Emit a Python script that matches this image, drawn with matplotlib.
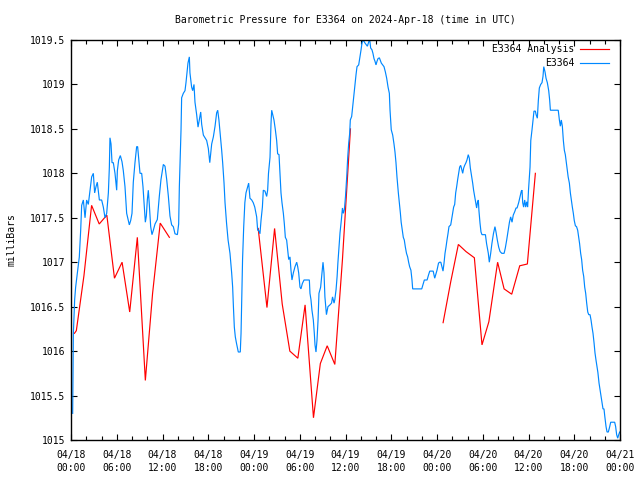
import matplotlib
matplotlib.use("Agg")
import matplotlib.pyplot as plt
from matplotlib.lines import Line2D
import numpy as np

# ---- data (hours since 2024-04-18 00:00 UTC, millibars) ----
obs_hours = [0.22,0.31,0.48,0.61,0.83,1.09,1.27,1.40,1.62,1.84,2.05,2.27,2.49,2.71,2.93,3.10,3.28,3.45,3.72,4.02,
 4.24,4.46,4.68,4.90,5.03,5.11,5.25,5.38,5.55,5.77,5.99,6.08,6.25,6.47,6.69,6.86,7.08,7.30,7.52,7.65,
 7.83,8.00,8.17,8.39,8.61,8.74,8.87,9.05,9.27,9.44,9.62,9.75,9.88,10.01,10.14,10.27,10.45,10.62,10.80,11.02,
 11.32,11.58,11.80,12.11,12.33,12.55,12.77,12.98,13.20,13.42,13.64,13.95,14.12,14.21,14.30,14.43,14.51,14.73,14.95,15.08,
 15.21,15.34,15.52,15.60,15.82,15.96,16.13,16.26,16.48,16.66,16.83,17.01,17.14,17.36,17.58,17.79,18.01,18.2,18.45,18.67,
 18.89,19.1,19.24,19.4,19.6,19.76,19.89,20.07,20.2,20.4,20.6,20.85,21.07,21.2,21.3,21.42,21.55,21.7,21.94,22.2,
 22.3,22.4,22.5,22.65,22.8,22.95,23.17,23.3,23.47,23.7,23.9,24.1,24.35,24.48,24.6,24.78,24.92,25.1,25.22,25.44,
 25.66,25.79,25.9,26.1,26.23,26.32,26.45,26.62,26.8,26.97,27.1,27.28,27.41,27.54,27.67,27.85,27.98,28.11,28.28,28.41,
 28.55,28.72,28.85,28.98,29.16,29.38,29.6,29.73,29.86,30.03,30.16,30.34,30.56,31.26,31.34,31.47,31.6,31.78,31.91,32.0,
 32.13,32.26,32.4,32.52,32.74,32.92,33.05,33.18,33.3,33.44,33.5,33.7,33.96,34.17,34.3,34.5,34.6,34.76,34.9,35.0,
 35.15,35.28,35.45,35.6,35.72,35.85,36.0,36.16,36.29,36.42,36.55,36.63,36.81,36.94,37.07,37.2,37.38,37.51,37.73,37.9,
 38.04,38.17,38.34,38.52,38.7,38.87,39.05,39.18,39.3,39.47,39.6,39.74,39.87,40.0,40.13,40.26,40.44,40.57,40.7,40.88,
 41.05,41.23,41.4,41.58,41.75,41.84,42.0,42.19,42.36,42.49,42.62,42.75,42.93,43.06,43.2,43.3,43.45,43.58,43.71,43.85,
 44.0,44.15,44.28,44.41,44.58,44.72,44.81,46.0,46.2,46.34,46.7,46.9,47.05,47.5,47.7,47.9,48.0,48.2,48.35,48.5,
 48.65,48.79,48.92,49.05,49.18,49.31,49.44,49.57,49.8,49.9,50.05,50.18,50.32,50.45,50.58,50.71,50.84,50.97,51.1,51.2,
 51.37,51.5,51.63,51.8,51.93,52.1,52.24,52.37,52.55,52.68,52.8,52.94,53.07,53.2,53.3,53.42,53.5,53.64,53.77,53.9,
 54.35,54.5,54.73,54.86,55.04,55.2,55.4,55.6,55.74,55.91,56.09,56.27,56.5,56.8,56.96,57.14,57.3,57.5,57.66,57.84,
 58.0,58.2,58.36,58.5,58.71,58.9,59.06,59.15,59.24,59.36,59.5,59.63,59.76,59.89,60.0,60.2,60.3,60.46,60.59,60.72,
 60.9,61.0,61.16,61.29,61.42,61.6,61.77,61.9,62.0,62.17,62.3,62.47,62.65,62.78,62.87,63.9,64.05,64.18,64.3,64.44,
 64.57,64.7,64.83,64.96,65.1,65.2,65.36,65.49,65.62,65.75,65.88,66.0,66.15,66.3,66.45,66.58,66.7,66.84,66.97,67.1,
 67.24,67.37,67.5,67.63,67.77,67.9,68.07,68.2,68.33,68.46,68.6,68.72,68.85,68.98,69.1,69.25,69.38,69.5,69.64,69.77,
 69.9,70.0,70.17,70.3,70.47,70.65,70.78,71.3,71.43,71.56,71.7,71.83,71.96]
obs_values = [1015.3,1016.2,1016.58,1016.72,1016.88,1017.06,1017.36,1017.64,1017.7,1017.5,1017.7,1017.65,1017.81,1017.96,1018.0,1017.78,1017.85,1017.9,1017.7,1017.7,
 1017.62,1017.5,1017.55,1017.78,1018.07,1018.4,1018.33,1018.12,1018.12,1018.0,1017.81,1018.03,1018.15,1018.2,1018.13,1018.03,1017.85,1017.55,1017.47,1017.42,
 1017.47,1017.55,1017.9,1018.12,1018.3,1018.3,1018.17,1018.0,1018.0,1017.85,1017.62,1017.45,1017.52,1017.7,1017.81,1017.65,1017.4,1017.31,1017.36,1017.43,
 1017.48,1017.74,1017.93,1018.1,1018.08,1017.93,1017.74,1017.52,1017.42,1017.4,1017.32,1017.31,1017.43,1017.85,1018.12,1018.49,1018.85,1018.9,1018.93,1019.02,
 1019.13,1019.24,1019.31,1019.13,1018.97,1018.93,1019.0,1018.8,1018.66,1018.52,1018.6,1018.69,1018.55,1018.43,1018.4,1018.37,1018.28,1018.12,1018.33,1018.41,
 1018.53,1018.68,1018.71,1018.6,1018.41,1018.26,1018.12,1017.89,1017.67,1017.44,1017.25,1017.1,1016.88,1016.72,1016.5,1016.27,1016.16,1016.09,1015.99,1015.99,
 1016.2,1016.61,1017.03,1017.4,1017.67,1017.78,1017.85,1017.89,1017.72,1017.7,1017.67,1017.62,1017.51,1017.36,1017.36,1017.32,1017.47,1017.62,1017.81,1017.8,
 1017.74,1017.81,1018.0,1018.18,1018.56,1018.71,1018.66,1018.6,1018.49,1018.37,1018.22,1018.21,1018.0,1017.78,1017.67,1017.55,1017.43,1017.28,1017.25,1017.14,
 1017.03,1017.06,1016.91,1016.8,1016.88,1016.95,1017.0,1016.95,1016.88,1016.72,1016.7,1016.76,1016.8,1016.8,1016.65,1016.58,1016.46,1016.35,1016.2,1016.07,
 1015.99,1016.12,1016.35,1016.65,1016.72,1016.88,1017.0,1016.88,1016.61,1016.46,1016.41,1016.5,1016.52,1016.54,1016.61,1016.54,1016.58,1016.69,1016.84,1016.99,
 1017.17,1017.33,1017.47,1017.61,1017.55,1017.59,1017.74,1017.96,1018.18,1018.34,1018.45,1018.6,1018.64,1018.75,1018.86,1018.97,1019.11,1019.2,1019.22,1019.31,
 1019.39,1019.47,1019.5,1019.47,1019.45,1019.43,1019.48,1019.5,1019.41,1019.39,1019.35,1019.29,1019.26,1019.22,1019.26,1019.29,1019.3,1019.27,1019.24,1019.22,
 1019.2,1019.14,1019.07,1018.97,1018.9,1018.71,1018.49,1018.43,1018.33,1018.24,1018.12,1017.96,1017.78,1017.67,1017.55,1017.45,1017.36,1017.28,1017.25,1017.17,
 1017.1,1017.06,1017.0,1016.95,1016.91,1016.8,1016.7,1016.7,1016.76,1016.8,1016.8,1016.86,1016.9,1016.9,1016.82,1016.88,1016.91,1016.99,1017.0,1017.0,
 1016.95,1016.9,1016.99,1017.1,1017.17,1017.25,1017.32,1017.4,1017.42,1017.47,1017.55,1017.62,1017.65,1017.78,1017.85,1017.93,1018.0,1018.07,1018.09,1018.06,
 1018.0,1018.06,1018.09,1018.12,1018.15,1018.21,1018.17,1018.06,1017.96,1017.89,1017.81,1017.74,1017.67,1017.61,1017.67,1017.7,1017.58,1017.44,1017.34,1017.31,
 1017.31,1017.21,1017.1,1017.0,1017.1,1017.21,1017.32,1017.4,1017.34,1017.25,1017.17,1017.12,1017.1,1017.1,1017.16,1017.25,1017.34,1017.45,1017.51,1017.45,
 1017.53,1017.57,1017.61,1017.61,1017.67,1017.74,1017.8,1017.81,1017.67,1017.62,1017.7,1017.62,1017.68,1017.62,1017.81,1018.07,1018.37,1018.49,1018.6,1018.7,
 1018.7,1018.66,1018.62,1018.82,1018.96,1019.0,1019.02,1019.09,1019.2,1019.14,1019.07,1019.02,1018.93,1018.82,1018.71,1018.71,1018.6,1018.53,1018.6,1018.53,
 1018.37,1018.26,1018.21,1018.12,1018.03,1017.96,1017.89,1017.78,1017.7,1017.62,1017.55,1017.47,1017.41,1017.4,1017.36,1017.28,1017.21,1017.1,1017.03,1016.91,
 1016.84,1016.72,1016.65,1016.54,1016.44,1016.41,1016.41,1016.35,1016.27,1016.2,1016.09,1015.98,1015.9,1015.83,1015.76,1015.64,1015.57,1015.5,1015.42,1015.35,
 1015.35,1015.27,1015.15,1015.09,1015.09,1015.15,1015.2,1015.2,1015.15,1015.06,1015.02,1015.06,1015.09]

# analysis series: three separate runs (NaN = gap)
ana_hours = [0.45,0.7,1.7,2.7,3.7,4.7,5.7,6.7,7.7,8.7,9.75,10.7,11.7,12.9,
             np.nan,
             24.55,25.7,26.7,27.7,28.7,29.75,30.7,31.8,32.7,33.6,34.6,35.6,36.65,
             np.nan,
             48.8,49.8,50.8,51.8,52.9,53.9,54.8,55.95,56.8,57.8,58.85,59.85,60.9]
ana_values = [1016.2,1016.23,1016.85,1017.64,1017.43,1017.53,1016.82,1017.0,1016.44,1017.28,1015.67,1016.65,1017.44,1017.28,
              np.nan,
              1017.38,1016.49,1017.38,1016.53,1016.0,1015.92,1016.52,1015.25,1015.86,1016.06,1015.85,1017.03,1018.5,
              np.nan,
              1016.32,1016.78,1017.2,1017.12,1017.05,1016.07,1016.33,1017.0,1016.7,1016.64,1016.96,1016.98,1018.0]

x_tick_hours = [0, 6, 12, 18, 24, 30, 36, 42, 48, 54, 60, 66, 72]
x_tick_labels = ["04/18\n00:00", "04/18\n06:00", "04/18\n12:00", "04/18\n18:00",
                 "04/19\n00:00", "04/19\n06:00", "04/19\n12:00", "04/19\n18:00",
                 "04/20\n00:00", "04/20\n06:00", "04/20\n12:00", "04/20\n18:00",
                 "04/21\n00:00"]
y_ticks = [1015, 1015.5, 1016, 1016.5, 1017, 1017.5, 1018, 1018.5, 1019, 1019.5]
y_tick_labels = ["1015", "1015.5", "1016", "1016.5", "1017", "1017.5", "1018", "1018.5", "1019", "1019.5"]

RED = "#ff0000"
BLUE = "#0088ff"
FONT = "DejaVu Sans Mono"
FS = 7
LW = 0.85

plt.rcParams['font.family'] = [FONT]

fig = plt.figure(figsize=(6.4, 4.8), dpi=100)
ax = fig.add_axes([71/640, 40/480, 549/640, 400/480])

ax.plot(ana_hours, ana_values, color=RED, lw=LW, solid_joinstyle='miter')
ax.plot(obs_hours, obs_values, color=BLUE, lw=LW, solid_joinstyle='miter')

ax.set_xlim(0, 72)
ax.set_ylim(1015, 1019.5)
ax.set_xticks(x_tick_hours)
ax.set_xticklabels(x_tick_labels, fontsize=FS, linespacing=1.45)
ax.set_xticks(np.arange(0, 73, 2), minor=True)
ax.set_yticks(y_ticks)
ax.set_yticklabels(y_tick_labels, fontsize=FS)
ax.tick_params(axis='both', which='both', direction='in', top=True, right=True,
               width=0.8, color='black')
ax.tick_params(axis='y', which='major', length=4, pad=4)
ax.tick_params(axis='x', which='major', length=4, pad=7)
ax.tick_params(axis='x', which='minor', length=3)
for s in ax.spines.values():
    s.set_linewidth(1.0)
    s.set_color('black')

ax.set_title("Barometric Pressure for E3364 on 2024-Apr-18 (time in UTC)",
             fontsize=FS, pad=12)
ax.set_ylabel("milliBars", fontsize=FS, labelpad=10)

# gnuplot-style legend (text right-aligned, sample on the right)
entries = [("E3364 Analysis", RED), ("E3364", BLUE)]
for i, (lab, col) in enumerate(entries):
    yy = 1 - (9 + 14 * i) / 400
    ax.text(1 - 46/549, yy, lab, transform=ax.transAxes, ha='right', va='center',
            fontsize=FS)
    ax.add_line(Line2D([1 - 40/549, 1 - 11/549], [yy, yy], transform=ax.transAxes,
                       color=col, lw=LW))

fig.savefig("out.png", dpi=100)
